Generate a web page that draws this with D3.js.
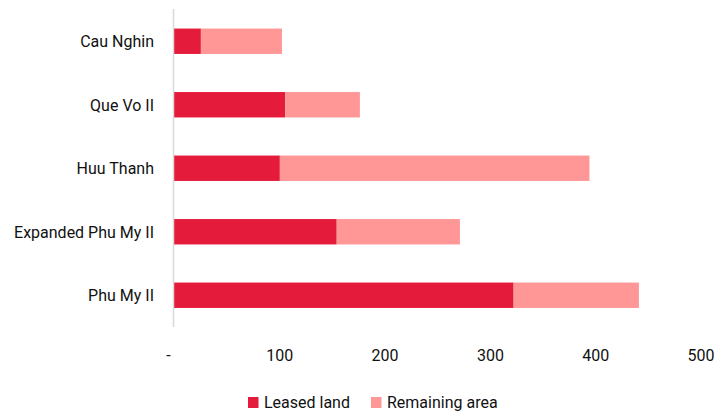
<!DOCTYPE html>
<html><head><meta charset="utf-8">
<script src="https://cdn.jsdelivr.net/npm/d3@7"></script>
<style>body{margin:0;background:#fff}</style>
</head><body>
<svg id="c" width="727" height="413"></svg>
<script>
const categories = ["Cau Nghin","Que Vo II","Huu Thanh","Expanded Phu My II","Phu My II"];
const leased = [26, 106, 101, 155, 323];
const remaining = [77, 71, 294, 117, 119];
const seriesNames = ["Leased land","Remaining area"];
const tickValues = [0,100,200,300,400,500];
const tickLabels = ["-","100","200","300","400","500"];
const colors = ["#E41B3A","#FF9797"];

const svg = d3.select("#c");
const font = "Roboto, 'Liberation Sans', sans-serif";
const fs = 17;
const x = d3.scaleLinear().domain([0,500]).range([173.5,700]);
const y = d3.scaleBand().domain(categories).range([9.5,327]).paddingInner(0.6).paddingOuter(0.3);

// measure condensing factor so that the longest label matches reference width
const probe = svg.append("text").attr("font-family",font).attr("font-size",fs).text("Expanded Phu My II");
const k = 140 / probe.node().getComputedTextLength();
probe.remove();

function label(g, px, py, txt, anchor){
  g.append("g").attr("transform",`translate(${px},${py}) scale(${k},1)`)
    .append("text").attr("dy","0.35em").attr("text-anchor",anchor)
    .attr("font-family",font).attr("font-size",fs).attr("fill","#111").text(txt);
}

const rows = categories.map((c,i)=>({c, a:leased[i], b:remaining[i]}));
const stack = d3.stack().keys(["a","b"])(rows);
svg.append("g").selectAll("g").data(stack).join("g")
  .attr("fill",(d,i)=>colors[i])
  .selectAll("rect").data(d=>d).join("rect")
  .attr("x",d=>x(d[0])).attr("width",d=>x(d[1])-x(d[0]))
  .attr("y",d=>y(d.data.c)).attr("height",y.bandwidth());

// y axis line
svg.append("line").attr("x1",173.5).attr("x2",173.5).attr("y1",9).attr("y2",327)
  .attr("stroke","#d9d9d9").attr("stroke-width",1.5);

// category labels
const gl = svg.append("g");
categories.forEach(c=>label(gl, 154, y(c)+y.bandwidth()/2, c, "end"));

// x tick labels
const gt = svg.append("g");
tickValues.forEach((d,i)=>label(gt, i===0 ? x(d)-5 : x(d)+1, 355, tickLabels[i], "middle"));

// legend
const lg = svg.append("g");
const lx = [248,371];
seriesNames.forEach((n,i)=>{
  lg.append("rect").attr("x",lx[i]).attr("y",397).attr("width",10.5).attr("height",11).attr("fill",colors[i]);
  label(lg, lx[i]+16, 402.5, n, "start");
});
</script>
</body></html>
